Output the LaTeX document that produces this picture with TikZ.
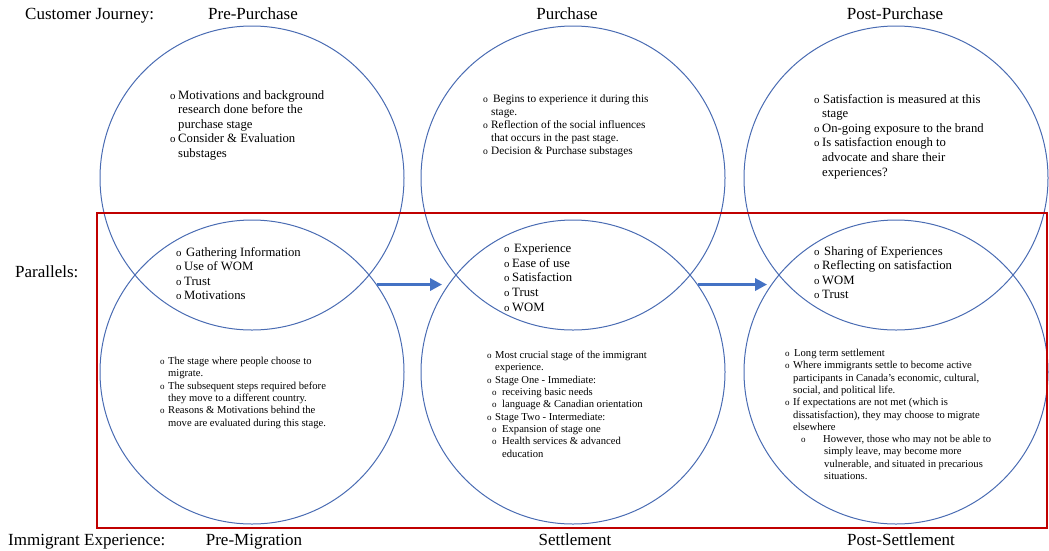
\documentclass[tikz,border=0pt]{standalone}
\usepackage{fontspec}
\setmainfont{Liberation Serif}
\usetikzlibrary{arrows.meta,positioning}
\definecolor{ringblue}{HTML}{4A6CB3}
\definecolor{flowblue}{HTML}{4472C4}
\definecolor{boxred}{HTML}{C00000}
\newlength{\bw}
\setlength{\bw}{8pt}
\newcommand{\ob}{\makebox[\bw][l]{\scalebox{0.85}{o}}}
\newcommand{\oc}{\hspace*{\bw}}

\begin{document}
\begin{tikzpicture}[x=1pt,y=-1pt]
\tikzstyle{ring}=[circle,draw=ringblue,line width=1pt,minimum size=304pt,inner sep=0pt]
\tikzstyle{head}=[font=\fontsize{17}{20}\selectfont,anchor=base,inner sep=0pt]
\tikzstyle{notes}=[align=left,anchor=north west,inner sep=0pt]
\tikzstyle{big}=[notes,font=\fontsize{12.7}{14.6}\selectfont]
\tikzstyle{mid}=[notes,font=\fontsize{11.3}{13}\selectfont]
\tikzstyle{small}=[notes,font=\fontsize{10.6}{12.3}\selectfont]
\tikzstyle{flow}=[draw=flowblue,line width=3.8pt,-{Triangle[length=12pt,width=12pt]}]
\useasboundingbox (0,0) rectangle (1049,550);

\node[ring] (prepur) at (252,178) {};
\node[ring] (purch) at (573,178) {};
\node[ring] (postpur) at (896,178) {};
\node[ring] (premig) at (252,372) {};
\node[ring] (settle) at (573,372) {};
\node[ring] (postset) at (896,372) {};

\draw[boxred,line width=1.8pt] (97,213) rectangle (1047,528);

\node[head,anchor=base west] (cj) at (25,19) {Customer Journey:};
\node[head] (cj1) at (253,19) {Pre-Purchase};
\node[head] (cj2) at (567,19) {Purchase};
\node[head] (cj3) at (895,19) {Post-Purchase};
\node[head,anchor=base west] (par) at (15,277) {Parallels:};
\node[head,anchor=base west] (ie) at (8,545) {Immigrant Experience:};
\node[head] (ie1) at (254,545) {Pre-Migration};
\node[head] (ie2) at (575,545) {Settlement};
\node[head] (ie3) at (901,545) {Post-Settlement};

\node[big] (prepurtxt) at (170,90) {%
\ob Motivations and background\\
\oc research done before the\\
\oc purchase stage\\
\ob Consider \& Evaluation\\
\oc substages};
\node[mid] (purchtxt) at (483,94) {\setlength{\bw}{10pt}%
\ob Begins to experience it during this\\
\oc stage.\\
\ob Reflection of the social influences\\
\oc that occurs in the past stage.\\
\ob Decision \& Purchase substages};
\node[big] (postpurtxt) at (814,94) {\setlength{\bw}{9pt}%
\ob Satisfaction is measured at this\\
\oc stage\\
\ob On-going exposure to the brand\\
\ob Is satisfaction enough to\\
\oc advocate and share their\\
\oc experiences?};

\node[big] (prepar) at (176,247) {\setlength{\bw}{10pt}%
\ob Gathering Information\\
\ob Use of WOM\\
\ob Trust\\
\ob Motivations};
\node[big] (midpar) at (504,244) {\setlength{\bw}{10pt}%
\ob Experience\\
\ob Ease of use\\
\ob Satisfaction\\
\ob Trust\\
\ob WOM};
\node[big] (postpar) at (814,246) {\setlength{\bw}{10pt}%
\ob Sharing of Experiences\\
\ob Reflecting on satisfaction\\
\ob WOM\\
\ob Trust};

\node[small] (premigtxt) at (160,357) {%
\ob The stage where people choose to\\
\oc migrate.\\
\ob The subsequent steps required before\\
\oc they move to a different country.\\
\ob Reasons \& Motivations behind the\\
\oc move are evaluated during this stage.};
\node[small] (settletxt) at (487,351) {%
\ob Most crucial stage of the immigrant\\
\oc experience.\\
\ob Stage One - Immediate:\\
\hspace*{5pt}\ob\hspace*{2pt}receiving basic needs\\
\hspace*{5pt}\ob\hspace*{2pt}language \& Canadian orientation\\
\ob Stage Two - Intermediate:\\
\hspace*{5pt}\ob\hspace*{2pt}Expansion of stage one\\
\hspace*{5pt}\ob\hspace*{2pt}Health services \& advanced\\
\hspace*{15pt}education};
\node[small] (postsettxt) at (785,349) {\setlength{\bw}{9pt}%
\ob Long term settlement\\
\ob Where immigrants settle to become active\\
\oc participants in Canada's economic, cultural,\\
\oc social, and political life.\\
\ob If expectations are not met (which is\\
\oc dissatisfaction), they may choose to migrate\\
\oc elsewhere\\
\hspace*{16pt}\ob\hspace*{14pt}However, those who may not be able to\\
\hspace*{39pt}simply leave, may become more\\
\hspace*{39pt}vulnerable, and situated in precarious\\
\hspace*{39pt}situations.};

\draw[flow,shorten >=6pt] (premig.35) -- (settle.145);
\draw[flow,shorten >=4pt] (settle.35) -- (postset.145);
\end{tikzpicture}
\end{document}
